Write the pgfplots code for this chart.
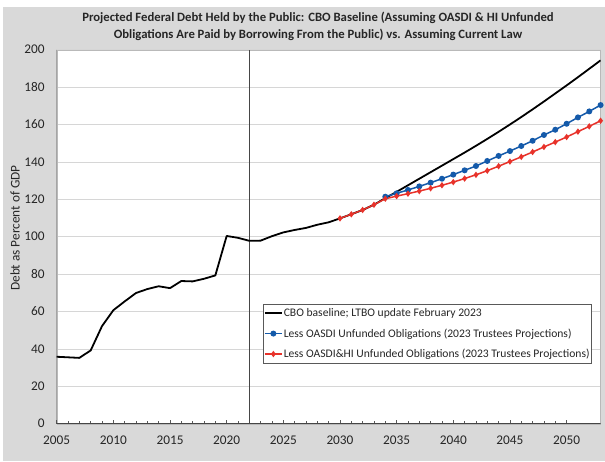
\documentclass[border=0pt]{standalone}
\usepackage{pgfplots}
\pgfplotsset{compat=1.18}
\usepackage{fontspec}
\setmainfont{Carlito}
\definecolor{bgray}{RGB}{217,217,217}
\definecolor{gridc}{RGB}{214,214,214}
\definecolor{blueS}{RGB}{20,90,170}
\definecolor{redS}{RGB}{232,50,42}
\begin{document}
\begin{tikzpicture}
\fill[white] (0pt,0pt) rectangle (605pt,-461pt);
\fill[bgray] (3pt,-7pt) rectangle (605pt,-461pt);
\node[font=\bfseries\fontsize{12.7}{17.5}\selectfont, align=center, text=black!85] at (318pt,-26.5pt)
 {Projected Federal Debt Held by the Public: CBO Baseline (Assuming OASDI \& HI Unfunded\\Obligations Are Paid by Borrowing From the Public) vs. Assuming Current Law};
\node[font=\fontsize{13.3}{15}\selectfont, rotate=90, text=black!85] at (15pt,-228pt) {Debt as Percent of GDP};
\begin{axis}[
  at={(56.7pt,-423.7pt)}, anchor=south west,
  width=543.9pt, height=374pt, scale only axis,
  xmin=2005, xmax=2053, ymin=0, ymax=200,
  axis background/.style={fill=white},
  axis line style={draw=gray!55},
  xtick={2005,2010,...,2050},
  minor x tick num=4,
  ytick={0,20,...,200},
  xtick pos=bottom, tick align=inside,
  major tick length=4pt, minor tick length=3pt,
  xtick style={draw=gray!70!black, line width=0.5pt},
  minor tick style={draw=gray!70!black, line width=0.5pt},
  ytick style={draw=none},
  ymajorgrids, grid style={draw=gridc, line width=0.7pt},
  /pgf/number format/assume math mode=true,
  /pgf/number format/1000 sep={},
  tick label style={font=\fontsize{13.3}{15}\selectfont, text=black!85},
  xticklabel style={anchor=center, yshift=-17pt},
  yticklabel style={anchor=east, xshift=-8.5pt},
  legend cell align=left,
  legend style={at={(0.3788,0.3193)}, anchor=north west, draw=gray!70!black, line width=0.5pt,
    font=\fontsize{11.6}{13}\selectfont, text=black!85, inner xsep=1pt, inner ysep=3pt,
    row sep=8.5pt, nodes={inner sep=1pt}},
  legend image code/.code={\draw[mark repeat=2, mark phase=2, #1] plot coordinates {(0pt,0pt) (8.5pt,0pt) (17pt,0pt)};},
]
\draw[gray!55!black, line width=0.8pt] (rel axis cs:0,1) -- (rel axis cs:0,0) -- (rel axis cs:1,0);
\draw[gray!55!black, line width=0.8pt] (axis cs:2022,0) -- (axis cs:2022,200);
\addplot[black, line width=1.8pt, line join=round] coordinates {
(2005,35.8) (2006,35.5) (2007,35.2) (2008,39.2) (2009,52.2) (2010,60.7) (2011,65.4) (2012,69.9)
(2013,72.0) (2014,73.5) (2015,72.5) (2016,76.3) (2017,76.1) (2018,77.5) (2019,79.3) (2020,100.4)
(2021,99.4) (2022,97.8) (2023,97.9) (2024,100.3) (2025,102.3) (2026,103.6) (2027,104.7) (2028,106.4)
(2029,107.7) (2030,109.8) (2031,112.0) (2032,114.3) (2033,117.1) (2034,120.6) (2035,124.0) (2036,127.5)
(2037,131.0) (2038,134.5) (2039,138.0) (2040,141.5) (2041,145.0) (2042,148.6) (2043,152.3) (2044,156.1)
(2045,160.0) (2046,164.0) (2047,168.1) (2048,172.3) (2049,176.6) (2050,180.9) (2051,185.3) (2052,189.8)
(2053,194.3)
};
\addlegendentry{CBO baseline; LTBO update February 2023}
\addplot[blueS, line width=1.5pt, mark=*, mark size=2.2pt, mark options={solid}] coordinates {
(2034,121.4) (2035,123.2) (2036,125.0) (2037,126.9) (2038,128.9) (2039,131.0) (2040,133.2) (2041,135.5)
(2042,137.8) (2043,140.5) (2044,143.2) (2045,145.8) (2046,148.5) (2047,151.3) (2048,154.4) (2049,157.2)
(2050,160.4) (2051,163.8) (2052,167.0) (2053,170.4)
};
\addlegendentry{Less OASDI Unfunded Obligations (2023 Trustees Projections)}
\addplot[redS, line width=1.5pt, mark=diamond*, mark size=2pt, mark options={solid}] coordinates {
(2030,109.8) (2031,112.0) (2032,114.3) (2033,117.1) (2034,120.3) (2035,121.7) (2036,123.0) (2037,124.4)
(2038,125.9) (2039,127.5) (2040,129.2) (2041,131.1) (2042,133.1) (2043,135.3) (2044,137.7) (2045,140.2)
(2046,142.7) (2047,145.3) (2048,148.0) (2049,150.6) (2050,153.3) (2051,156.2) (2052,159.0) (2053,162.0)
};
\addlegendentry{Less OASDI\&HI Unfunded Obligations (2023 Trustees Projections)}
\end{axis}
\end{tikzpicture}
\end{document}
